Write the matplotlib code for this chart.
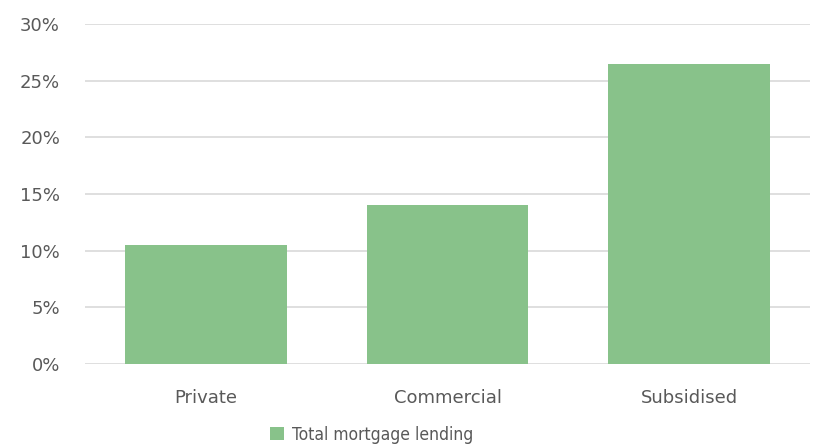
import numpy as np
import matplotlib.pyplot as plt
from matplotlib.ticker import FuncFormatter

categories = ['Private', 'Commercial', 'Subsidised']
lending = [10.5, 14.0, 26.5]
series_name = 'Total mortgage lending'

bar_color = '#88c28a'
text_color = '#595959'
grid_color = '#d9d9d9'

plt.rcParams['font.family'] = ['DejaVu Sans']

fig = plt.figure(figsize=(8.15, 4.47), dpi=100)
ax = fig.add_axes([0.1043, 0.1857, 0.8896, 0.7606])

x = np.arange(len(categories))
ax.bar(x, lending, width=0.67, color=bar_color, label=series_name, zorder=3)

ax.set_xlim(-0.5, len(categories) - 0.5)
ax.set_ylim(0, 30)
ax.set_yticks(np.arange(0, 31, 5))
ax.yaxis.set_major_formatter(FuncFormatter(lambda v, _: f'{v:.0f}%'))
ax.set_xticks(x)
ax.set_xticklabels(categories)

ax.grid(axis='y', color=grid_color, linewidth=1.2, zorder=0)
for side in ['top', 'right', 'left', 'bottom']:
    ax.spines[side].set_visible(False)
ax.tick_params(axis='both', length=0, colors=text_color, labelsize=13)
ax.tick_params(axis='y', pad=18)
ax.tick_params(axis='x', pad=18)

leg = fig.legend(loc='lower center', bbox_to_anchor=(0.456, -0.028), frameon=False,
                 prop={'family': 'DejaVu Sans', 'stretch': 'condensed', 'size': 12.5},
                 handlelength=0.8, handleheight=0.8, handletextpad=0.5)
for t in leg.get_texts():
    t.set_color(text_color)

fig.savefig('out.png', dpi=100)
